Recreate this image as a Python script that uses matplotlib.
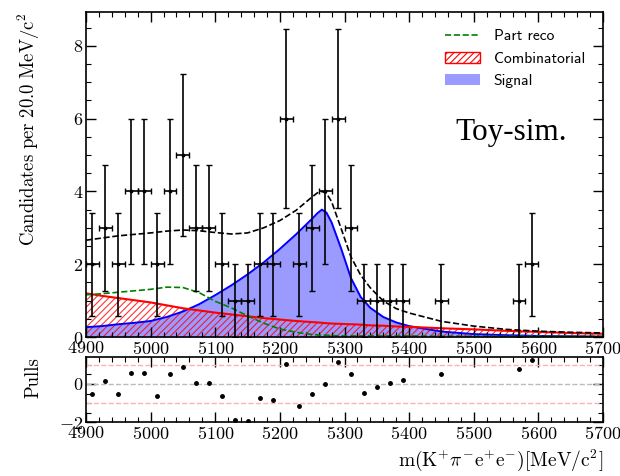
import numpy as np
import matplotlib
matplotlib.use("Agg")
import matplotlib.pyplot as plt
from matplotlib.ticker import MultipleLocator
from matplotlib.patches import Patch
from matplotlib.lines import Line2D

plt.rcParams['font.family'] = 'serif'
plt.rcParams['font.serif'] = ['cmr10', 'DejaVu Serif']
plt.rcParams['mathtext.fontset'] = 'cm'
plt.rcParams['axes.formatter.use_mathtext'] = True
plt.rcParams['axes.unicode_minus'] = True
plt.rcParams['hatch.linewidth'] = 0.8

# ---- data ----
bin_centers = [4910, 4930, 4950, 4970, 4990, 5010, 5030, 5050, 5070, 5090,
               5110, 5130, 5150, 5170, 5190, 5210, 5230, 5250, 5270, 5290,
               5310, 5330, 5350, 5370, 5390, 5450, 5570, 5590]
counts = [2, 3, 2, 4, 4, 2, 4, 5, 3, 3,
          2, 1, 1, 2, 2, 6, 2, 3, 4, 6,
          3, 1, 1, 1, 1, 1, 1, 2]
pulls = [-0.50, 0.14, -0.55, 0.59, 0.57, -0.64, 0.54, 0.91, 0.04, 0.05,
         -0.62, -1.87, -1.93, -0.73, -0.86, 1.05, -1.18, -0.52, 0.02, 1.16,
         0.52, -0.46, -0.14, 0.07, 0.23, 0.55, 0.77, 1.27]

curve_x = [4900, 4925, 4950, 4975, 5000, 5025, 5050, 5075, 5100, 5125,
           5150, 5175, 5200, 5225, 5250, 5258, 5265, 5272, 5280, 5295,
           5310, 5325, 5340, 5360, 5380, 5400, 5450, 5500, 5550, 5600,
           5650, 5700]
signal = [0.27, 0.30, 0.35, 0.39, 0.44, 0.55, 0.70, 0.90, 1.15, 1.42,
          1.72, 2.05, 2.42, 2.82, 3.25, 3.40, 3.50, 3.42, 3.15, 2.42,
          1.62, 1.10, 0.80, 0.55, 0.40, 0.30, 0.15, 0.08, 0.05, 0.03,
          0.02, 0.01]
combinatorial = [1.20, 1.13, 1.07, 1.01, 0.95, 0.87, 0.79, 0.73, 0.67, 0.62,
                 0.57, 0.52, 0.48, 0.44, 0.41, 0.40, 0.39, 0.38, 0.37, 0.36,
                 0.35, 0.34, 0.32, 0.31, 0.29, 0.28, 0.24, 0.21, 0.17, 0.14,
                 0.11, 0.09]
part_reco = [1.16, 1.19, 1.23, 1.27, 1.31, 1.37, 1.36, 1.22, 0.98, 0.80,
             0.58, 0.38, 0.22, 0.13, 0.07, 0.06, 0.05, 0.05, 0.04, 0.03,
             0.03, 0.03, 0.03, 0.03, 0.03, 0.03, 0.02, 0.02, 0.02, 0.02,
             0.02, 0.02]
total = [2.66, 2.72, 2.78, 2.82, 2.86, 2.91, 2.94, 2.92, 2.87, 2.83,
         2.86, 3.00, 3.20, 3.48, 3.85, 3.96, 4.00, 3.95, 3.72, 2.97,
         2.20, 1.70, 1.35, 0.99, 0.78, 0.66, 0.43, 0.30, 0.21, 0.16,
         0.13, 0.11]

legend_labels = ['Part reco', 'Combinatorial', 'Signal']
bin_half_width = 10
xticks = [4900, 5000, 5100, 5200, 5300, 5400, 5500, 5600, 5700]

# ---- figure ----
fig = plt.figure(figsize=(6.2, 4.76), dpi=100)
ax = fig.add_axes([0.1387, 0.292, 0.8339, 0.6828])
axp = fig.add_axes([0.1387, 0.1134, 0.8339, 0.1366])

cx = np.array(curve_x)
ax.fill_between(cx, 0, signal, color='#9a9aff', lw=0)
ax.plot(cx, signal, color='blue', lw=1.4)
ax.fill_between(cx, 0, combinatorial, facecolor='none', edgecolor='red',
                hatch='/////', lw=0, alpha=0.8)
ax.plot(cx, combinatorial, color='red', lw=1.5)
ax.plot(cx, part_reco, color='green', ls='--', lw=1.2)
ax.plot(cx, total, color='black', ls='--', lw=1.2)

yerr = np.sqrt(np.array(counts))
ax.errorbar(bin_centers, counts, xerr=bin_half_width, yerr=yerr, fmt='.',
            color='black', ms=3.5, elinewidth=1.2, capsize=2, capthick=1.0)

ax.set_xlim(4900, 5700)
ax.set_ylim(0, 8.93)
ax.set_xticks(xticks)
ax.xaxis.set_minor_locator(MultipleLocator(20))
ax.yaxis.set_major_locator(MultipleLocator(2))
ax.yaxis.set_minor_locator(MultipleLocator(0.5))
ax.set_ylabel(r'$\mathrm{Candidates\ per\ 20.0\ MeV/c^{2}}$', fontsize=13.5,
              loc='top')

handles = [Line2D([], [], color='green', ls='--', lw=1.2),
           Patch(facecolor='none', edgecolor='red', hatch='/////', lw=1.0),
           Patch(facecolor='#9a9aff', edgecolor='none')]
leg = ax.legend(handles, legend_labels, loc='upper right',
                frameon=False, prop={'family': 'cmss10', 'size': 11.2},
                handlelength=2.2, borderaxespad=0.7, labelspacing=0.55,
                handletextpad=0.9, bbox_to_anchor=(0.998, 1.0))
ax.text(0.822, 0.628, 'Toy-sim.', transform=ax.transAxes, ha='center',
        va='center', fontsize=22.5, family='Liberation Serif')

for a in (ax, axp):
    a.tick_params(which='both', direction='in', top=True, right=True,
                  labelsize=13, pad=2)
    a.tick_params(which='major', length=7, width=1)
    a.tick_params(which='minor', length=3.5, width=0.8)
    for s in a.spines.values():
        s.set_linewidth(1.2)

axp.axhline(0, color='#bbbbbb', ls='--', lw=1)
axp.axhline(1, color='#ffb0b0', ls='--', lw=1)
axp.axhline(-1, color='#ffb0b0', ls='--', lw=1)
axp.plot(bin_centers, pulls, '.', color='black', ms=5)
axp.set_xlim(4900, 5700)
axp.set_ylim(-2, 1.42)
axp.set_xticks(xticks)
axp.xaxis.set_minor_locator(MultipleLocator(20))
axp.yaxis.set_major_locator(MultipleLocator(2))
axp.yaxis.set_minor_locator(MultipleLocator(0.5))
axp.set_ylabel('Pulls', fontsize=13.5, loc='top')
axp.set_xlabel(r'$\mathrm{m(K^{+}\pi^{-}e^{+}e^{-})[MeV/c^{2}]}$', fontsize=14,
               loc='right', labelpad=4)
axp.yaxis.set_label_coords(-0.085, 1.0)
ax.yaxis.set_label_coords(-0.085, 1.0)

fig.savefig('out.png', dpi=100)
